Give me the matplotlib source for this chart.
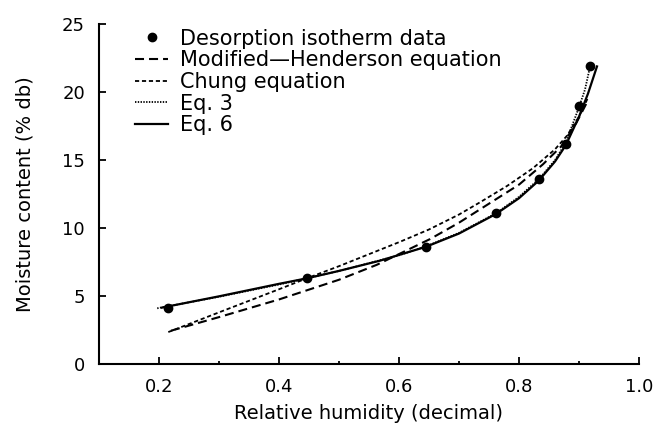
import numpy as np
import matplotlib
matplotlib.use("Agg")
import matplotlib.pyplot as plt
from matplotlib.legend_handler import HandlerLine2D

plt.rcParams['font.family'] = ['DejaVu Sans']
plt.rcParams['lines.scale_dashes'] = False

# desorption isotherm data
rh_data = [0.2145, 0.446, 0.6445, 0.762, 0.833, 0.878, 0.900, 0.918]
mc_data = [4.10, 6.35, 8.62, 11.08, 13.60, 16.18, 18.97, 21.93]

# fitted curves, sampled from the figure
rh_mh = [0.22, 0.30, 0.40, 0.50, 0.563, 0.652, 0.70, 0.75, 0.80, 0.84, 0.87, 0.895, 0.915]
mc_mh = [2.45, 3.45, 4.75, 6.20, 7.30, 9.20, 10.4, 11.8, 13.2, 14.7, 16.0, 17.7, 19.4]

rh_chung = [0.2155, 0.30, 0.40, 0.446, 0.50, 0.602, 0.65, 0.70, 0.735, 0.78, 0.823, 0.86, 0.88, 0.90, 0.915]
mc_chung = [2.35, 3.80, 5.50, 6.30, 7.20, 9.00, 9.90, 11.0, 11.9, 13.1, 14.4, 15.8, 16.8, 18.2, 19.6]

rh_eq3 = [0.197, 0.30, 0.40, 0.446, 0.50, 0.60, 0.6445, 0.70, 0.762, 0.80, 0.833, 0.86, 0.878, 0.90, 0.91, 0.92]
mc_eq3 = [4.10, 4.95, 5.85, 6.30, 6.85, 8.00, 8.65, 9.65, 11.1, 12.3, 13.6, 15.0, 16.3, 18.9, 20.2, 22.2]

rh_eq6 = [0.205, 0.30, 0.40, 0.446, 0.50, 0.568, 0.6445, 0.70, 0.762, 0.80, 0.833, 0.86, 0.878, 0.90, 0.915, 0.93]
mc_eq6 = [4.15, 4.98, 5.90, 6.30, 6.85, 7.60, 8.62, 9.60, 11.05, 12.2, 13.5, 14.9, 16.1, 18.2, 19.9, 21.9]


class LeftMarkerHandler(HandlerLine2D):
    # marker sits at the left end of the legend handle, as in the original
    def get_xdata(self, legend, xdescent, ydescent, width, height, fontsize):
        xdata = [-xdescent, -xdescent + width]
        return xdata, [-xdescent + 0.12 * width]


fig = plt.figure(figsize=(6.54, 4.29), dpi=100)
ax = fig.add_axes([99/654, 65/429, 540/654, 339.7/429])

pts, = ax.plot(rh_data, mc_data, 'o', color='black', ms=6, zorder=5,
               label='Desorption isotherm data')
ax.plot(rh_mh, mc_mh, color='black', lw=1.5, dashes=(6.5, 3.6),
        label='Modified\u2014Henderson equation')
ax.plot(rh_chung, mc_chung, color='black', lw=1.3, dashes=(3, 2),
        label='Chung equation')
ax.plot(rh_eq3, mc_eq3, color='black', lw=1.3, dashes=(1, 1),
        label='Eq. 3')
ax.plot(rh_eq6, mc_eq6, color='black', lw=1.6, label='Eq. 6')

ax.set_xlim(0.1, 1.0)
ax.set_ylim(0, 25)
ax.set_xticks([0.2, 0.4, 0.6, 0.8, 1.0])
ax.set_xticklabels(['0.2', '0.4', '0.6', '0.8', '1.0'])
ax.set_xticks([0.3, 0.5, 0.7, 0.9], minor=True)
ax.set_yticks([0, 5, 10, 15, 20, 25])

for s in ['top', 'right']:
    ax.spines[s].set_visible(False)
for s in ['left', 'bottom']:
    ax.spines[s].set_linewidth(1.5)
ax.tick_params(which='major', direction='in', length=5, width=1.3,
               labelsize=13, pad=10)
ax.tick_params(which='minor', direction='in', length=2.5, width=1.3)

ax.set_xlabel('Relative humidity (decimal)', fontsize=14, labelpad=6)
ax.set_ylabel('Moisture content (% db)', fontsize=14, labelpad=20)

ax.legend(handler_map={pts: LeftMarkerHandler(numpoints=1)},
          loc='upper left', bbox_to_anchor=(135/654, 0.933),
          bbox_transform=fig.transFigure, frameon=False, fontsize=15,
          handlelength=1.6, handletextpad=0.58, labelspacing=0.08,
          borderpad=0, borderaxespad=0)

fig.savefig('out.png', dpi=100)
